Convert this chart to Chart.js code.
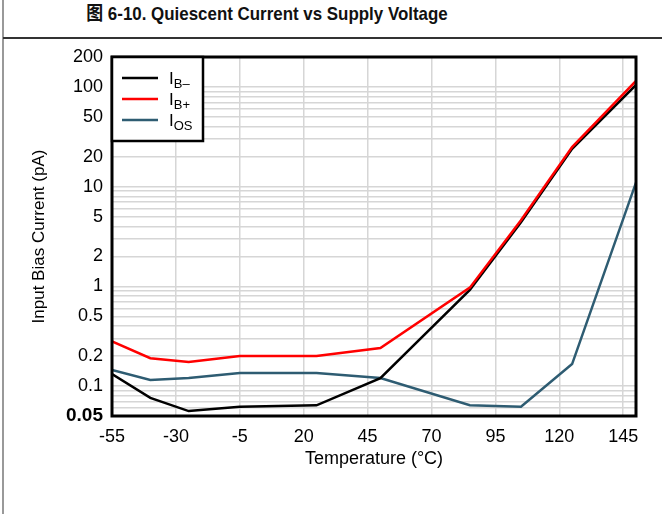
<!DOCTYPE html>
<html>
<head>
<meta charset="utf-8">
<script src="https://cdn.jsdelivr.net/npm/chart.js@4.4.1/dist/chart.umd.min.js"></script>
<style>
  body { margin: 0; background: #fff; }
  #wrap { position: relative; width: 662px; height: 514px; overflow: hidden; }
  #title { position: absolute; left: 0; top: -2px; width: 534px; text-align: center; line-height: 22px;
           font: bold 19px "Liberation Sans", "Noto Sans CJK SC", sans-serif; color: #111;
           transform: scaleX(0.89); transform-origin: 267px 0; }
  #vline { position: absolute; left: 2px; top: 0; width: 2px; height: 514px; background: #999; }
  #hline { position: absolute; left: 3px; top: 37px; width: 659px; height: 2px; background: #333; }
  canvas { position: absolute; left: 0; top: 0; }
</style>
</head>
<body>
<div id="wrap">
  <div id="vline"></div>
  <div id="hline"></div>
  <div id="title">图 6-10. Quiescent Current vs Supply Voltage</div>
  <canvas id="chart" width="662" height="514"></canvas>
</div>
<script>
// values (pA)
const temps = [-55, -40, -25, -5, 25, 50, 85, 105, 125, 150];
const ibMinus = [0.132, 0.076, 0.056, 0.062, 0.064, 0.12, 0.92, 4.4, 24, 105];
const ibPlus = [0.28, 0.19, 0.174, 0.2, 0.2, 0.24, 0.97, 4.6, 25, 115];
const iOs = [0.145, 0.115, 0.12, 0.135, 0.135, 0.12, 0.064, 0.062, 0.166, 11];

const xTicks = [-55, -30, -5, 20, 45, 70, 95, 120, 145];
const yLabels = [0.05, 0.1, 0.2, 0.5, 1, 2, 5, 10, 20, 50, 100, 200];

const seriesMain = ["I", "I", "I"];
const seriesSub = ["B\u2013", "B+", "OS"];
const seriesColors = ["#000000", "#ff0000", "#2e5c72"];

const FONT = '"Liberation Sans", Arial, sans-serif';

// every 1..9 x decade between 0.05 and 200 gets a grid line
function logGridValues() {
    const vals = [];
    for (let e = -2; e <= 2; e++) {
        for (let m = 1; m <= 9; m++) {
            const v = Number((m * Math.pow(10, e)).toPrecision(3));
            if (v >= 0.05 && v <= 200) vals.push(v);
        }
    }
    return vals;
}

function toPoints(ys) {
    return temps.map((t, i) => ({ x: t, y: ys[i] }));
}

// black frame round the plot + legend box with subscripts
const framePlugin = {
    id: "frame",
    afterDatasetsDraw(chart) {
        const { ctx, chartArea: a } = chart;
        ctx.save();
        ctx.strokeStyle = "#000";
        ctx.lineWidth = 3;
        ctx.strokeRect(a.left, a.top, a.right - a.left, a.bottom - a.top);

        // legend
        const bx = a.left, by = a.top, bw = 91, bh = 84;
        ctx.fillStyle = "#fff";
        ctx.fillRect(bx, by, bw, bh);
        ctx.lineWidth = 2.5;
        ctx.strokeRect(bx, by, bw, bh);

        chart.data.datasets.forEach((ds, i) => {
            const y = by + 21 + i * 21;
            ctx.strokeStyle = ds.borderColor;
            ctx.lineWidth = 2.5;
            ctx.beginPath();
            ctx.moveTo(bx + 10, y);
            ctx.lineTo(bx + 46, y);
            ctx.stroke();

            ctx.fillStyle = "#000";
            ctx.textBaseline = "alphabetic";
            ctx.textAlign = "left";
            ctx.font = "17px " + FONT;
            ctx.fillText(seriesMain[i], bx + 57, y + 6);
            const w = ctx.measureText(seriesMain[i]).width;
            ctx.font = "13px " + FONT;
            ctx.fillText(seriesSub[i], bx + 57 + w, y + 10);
        });
        ctx.restore();
    }
};

const ctx = document.getElementById("chart").getContext("2d");

new Chart(ctx, {
    type: "line",
    data: {
        datasets: [
            { label: "IB-", data: toPoints(ibMinus), borderColor: seriesColors[0], order: 2 },
            { label: "IB+", data: toPoints(ibPlus), borderColor: seriesColors[1], order: 1 },
            { label: "IOS", data: toPoints(iOs), borderColor: seriesColors[2], order: 3 }
        ]
    },
    options: {
        responsive: false,
        animation: false,
        layout: { padding: { top: 57, right: 26, left: 25, bottom: 40 } },
        elements: {
            point: { radius: 0 },
            line: { borderWidth: 2.5, tension: 0 }
        },
        plugins: {
            legend: { display: false },
            tooltip: { enabled: false }
        },
        scales: {
            x: {
                type: "linear",
                min: -55,
                max: 150,
                afterBuildTicks: (scale) => {
                    scale.ticks = xTicks.map(v => ({ value: v }));
                },
                afterFit: (scale) => { scale.height = 58; },
                grid: { color: "#d6d6d6", lineWidth: 1.5, drawTicks: false },
                border: { display: false },
                ticks: {
                    padding: 10,
                    color: "#000",
                    font: { family: FONT, size: 18 },
                    maxRotation: 0,
                    autoSkip: false
                },
                title: {
                    display: true,
                    text: "Temperature (\u00b0C)",
                    color: "#000",
                    font: { family: FONT, size: 18 }
                }
            },
            y: {
                type: "logarithmic",
                min: 0.05,
                max: 200,
                afterBuildTicks: (scale) => {
                    scale.ticks = logGridValues().map(v => ({ value: v }));
                },
                afterFit: (scale) => { scale.width = 87; },
                grid: { color: "#d6d6d6", lineWidth: 1.5, drawTicks: false },
                border: { display: false },
                ticks: {
                    padding: 9,
                    color: "#000",
                    autoSkip: false,
                    font: (c) => ({
                        family: FONT,
                        size: c.tick && c.tick.value === 0.05 ? 19 : 18,
                        weight: c.tick && c.tick.value === 0.05 ? "bold" : "normal"
                    }),
                    callback: (v) => yLabels.includes(v) ? String(v) : ""
                },
                title: {
                    display: true,
                    text: "Input Bias Current (pA)",
                    color: "#000",
                    font: { family: FONT, size: 17 }
                }
            }
        }
    },
    plugins: [framePlugin]
});
</script>
</body>
</html>
